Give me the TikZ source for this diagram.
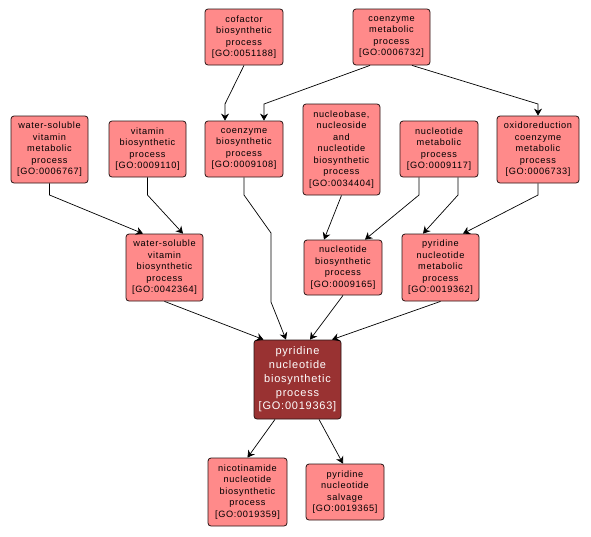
\documentclass[tikz,border=0pt]{standalone}
\usepackage{fontspec}
\usepackage{tikz}
\newfontfamily\gofont[LetterSpace=7]{Liberation Sans}
\definecolor{termfill}{RGB}{255,138,138}
\definecolor{mainfill}{RGB}{153,50,50}
\definecolor{termline}{RGB}{40,20,20}
\usetikzlibrary{positioning, calc, arrows.meta}

\begin{document}
\begin{tikzpicture}[x=1pt, y=-1pt, >={Stealth[length=7pt,width=8pt]},
    term/.style={draw=termline, fill=termfill, rounded corners=3pt, line width=0.8pt,
        align=center, inner sep=0pt, font=\gofont\fontsize{9.2}{11.5}\selectfont},
    mainterm/.style={term, fill=mainfill, text=white,
        font=\gofont\fontsize{11}{13.7}\selectfont},
    edge/.style={->, line width=0.7pt}]
    \useasboundingbox (0,0) rectangle (591,536);

    % Top row
    \node[term, minimum width=78, minimum height=56] (cof) at (244,37)
        {cofactor\\biosynthetic\\process\\{[GO:0051188]}};
    \node[term, minimum width=77, minimum height=56] (coemet) at (391.5,37)
        {coenzyme\\metabolic\\process\\{[GO:0006732]}};

    % Second row
    \node[term, minimum width=77, minimum height=67] (wsmet) at (49.5,149.5)
        {water-soluble\\vitamin\\metabolic\\process\\{[GO:0006767]}};
    \node[term, minimum width=77, minimum height=56] (vitbio) at (147.5,149)
        {vitamin\\biosynthetic\\process\\{[GO:0009110]}};
    \node[term, minimum width=78, minimum height=56] (coebio) at (244,149)
        {coenzyme\\biosynthetic\\process\\{[GO:0009108]}};
    \node[term, minimum width=77, minimum height=91] (nbase) at (341.5,149.5)
        {nucleobase,\\nucleoside\\and\\nucleotide\\biosynthetic\\process\\{[GO:0034404]}};
    \node[term, minimum width=78, minimum height=56] (ntmet) at (439,149)
        {nucleotide\\metabolic\\process\\{[GO:0009117]}};
    \node[term, minimum width=82, minimum height=67] (oxmet) at (538,149.5)
        {oxidoreduction\\coenzyme\\metabolic\\process\\{[GO:0006733]}};

    % Third row
    \node[term, minimum width=77, minimum height=67] (wsbio) at (164.5,267.5)
        {water-soluble\\vitamin\\biosynthetic\\process\\{[GO:0042364]}};
    \node[term, minimum width=78, minimum height=55] (ntbio) at (343,267.5)
        {nucleotide\\biosynthetic\\process\\{[GO:0009165]}};
    \node[term, minimum width=77, minimum height=67] (pyrmet) at (440.5,267.5)
        {pyridine\\nucleotide\\metabolic\\process\\{[GO:0019362]}};

    % Focus term
    \node[mainterm, minimum width=87, minimum height=79] (pyrbio) at (297.5,379.5)
        {pyridine\\nucleotide\\biosynthetic\\process\\{[GO:0019363]}};

    % Children
    \node[term, minimum width=79, minimum height=68] (nicbio) at (247.5,492)
        {nicotinamide\\nucleotide\\biosynthetic\\process\\{[GO:0019359]}};
    \node[term, minimum width=78, minimum height=56] (pyrsalv) at (345,492)
        {pyridine\\nucleotide\\salvage\\{[GO:0019365]}};

    % Edges
    \draw[edge] (cof.south) -- (225,104) -- ([xshift=-19]coebio.north);
    \draw[edge] ([xshift=-21.5]coemet.south) -- (264,104) -- ([xshift=20]coebio.north);
    \draw[edge] ([xshift=20.5]coemet.south) -- (538,104) -- (oxmet.north);
    \draw[edge] (wsmet.south) -- (49.5,195) -- ([xshift=-21.5]wsbio.north);
    \draw[edge] (vitbio.south) -- (147.5,195) -- ([xshift=18.5]wsbio.north);
    \draw[edge] (coebio.south) -- (244,195) -- (271,233) -- (271,302) -- ([xshift=-11.5]pyrbio.north);
    \draw[edge] (wsbio.south) -- ([xshift=-34]pyrbio.north);
    \draw[edge] (nbase.south) -- ([xshift=-19]ntbio.north);
    \draw[edge] ([xshift=-20]ntmet.south) -- (419,195) -- ([xshift=22]ntbio.north);
    \draw[edge] ([xshift=19]ntmet.south) -- (458,195) -- ([xshift=-17.5]pyrmet.north);
    \draw[edge] (oxmet.south) -- (538,195) -- ([xshift=22.5]pyrmet.north);
    \draw[edge] (ntbio.south) -- ([xshift=12.5]pyrbio.north);
    \draw[edge] (pyrmet.south) -- ([xshift=34.5]pyrbio.north);
    \draw[edge] ([xshift=-22.5]pyrbio.south) -- (nicbio.north);
    \draw[edge] ([xshift=21.5]pyrbio.south) -- ([xshift=-2]pyrsalv.north);
\end{tikzpicture}
\end{document}
